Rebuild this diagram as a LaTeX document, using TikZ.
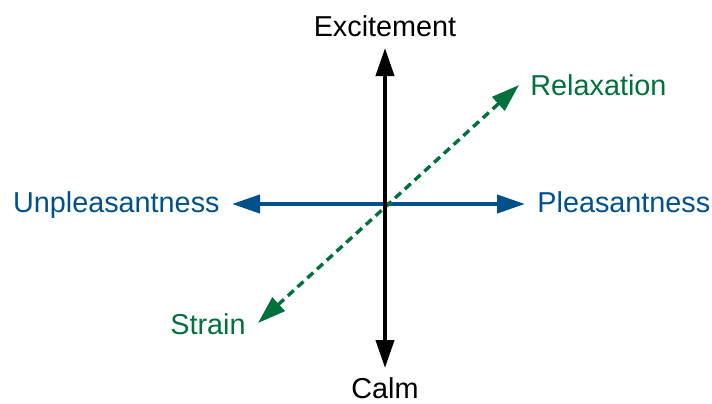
\documentclass[tikz,border=0pt]{standalone}
\usepackage{fontspec}
\setmainfont{Liberation Sans}
\usetikzlibrary{arrows.meta}
\definecolor{axblue}{HTML}{00508C}
\definecolor{axgreen}{HTML}{00703C}
\tikzset{
  lbl/.style={inner sep=0pt, font=\fontsize{14.4}{17}\selectfont},
  axis/.style={line width=2pt, {Triangle[length=14pt,width=9pt]}-{Triangle[length=14pt,width=9pt]}},
  diag/.style={line width=1.7pt, dash pattern=on 4pt off 2.6pt, {Triangle[length=14pt,width=9pt]}-{Triangle[length=14pt,width=9pt]}}
}
\begin{document}
\begin{tikzpicture}[x=0.5pt,y=-0.5pt]
\useasboundingbox (0,0) rectangle (712,403);
\coordinate (top) at (385,48);
\coordinate (bot) at (385,368);
\coordinate (lft) at (232,204);
\coordinate (rgt) at (525,204);
\coordinate (ne) at (519,85);
\coordinate (sw) at (258,323);
\draw[axis, axblue, draw=axblue, fill=axblue] (lft) -- (rgt);
\draw[diag, axgreen] (sw) -- (ne);
\draw[axis, black] (bot) -- (top);
\node[lbl, anchor=base] (exc) at (385,36.5) {Excitement};
\node[lbl, anchor=base] (calm) at (385,398.5) {Calm};
\node[lbl, anchor=base east, text=axblue] (unp) at (220,212) {Unpleasantness};
\node[lbl, anchor=base west, text=axblue] (ple) at (537,212) {Pleasantness};
\node[lbl, anchor=base west, text=axgreen] (rel) at (530,95.5) {Relaxation};
\node[lbl, anchor=base east, text=axgreen] (str) at (246,334) {Strain};
\end{tikzpicture}
\end{document}
